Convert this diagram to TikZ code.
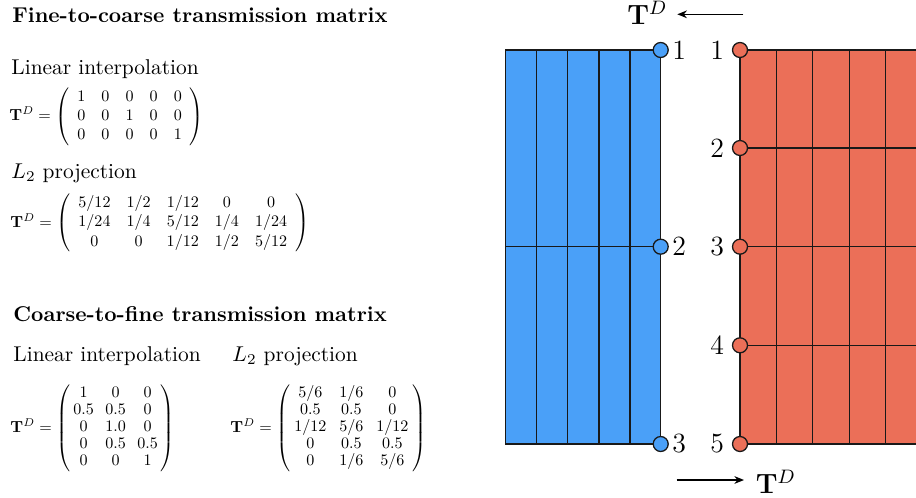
\documentclass[tikz,border=0pt]{standalone}
\usepackage{fix-cm}
\usepackage{amsmath}
\usepackage{graphicx}
\usetikzlibrary{arrows.meta}
\definecolor{bluefill}{RGB}{74,160,248}
\definecolor{redfill}{RGB}{235,111,88}
\definecolor{gridline}{RGB}{25,25,25}
\newcommand{\mymat}[4]{\scalebox{0.75}{\setlength{\arraycolsep}{#2}\renewcommand{\arraystretch}{#1}$\mathbf{T}^D=\left(\begin{array}{#3}#4\end{array}\right)$}}
\begin{document}
\begin{tikzpicture}[x=0.467pt,y=-0.467pt,
  head/.style={anchor=base west,inner sep=0pt,font=\bfseries},
  sub/.style={anchor=base west,inner sep=0pt},
  mat/.style={anchor=west,inner sep=0pt},
  gridl/.style={draw=gridline,line width=0.7pt},
  bdot/.style={circle,draw=gridline,fill=bluefill,line width=0.6pt,minimum size=7pt,inner sep=0pt},
  rdot/.style={circle,draw=gridline,fill=redfill,line width=0.6pt,minimum size=7pt,inner sep=0pt},
  num/.style={inner sep=0pt,font=\fontsize{13}{15}\selectfont},
  tarrow/.style={-{Stealth[length=4.5pt,width=3.6pt]},line width=0.6pt}
]
\useasboundingbox (0,0) rectangle (916,497);

% ---------- left text ----------
\node[head] (h1) at (12,22) {Fine-to-coarse transmission matrix};
\node[sub] (s1) at (11,74) {Linear interpolation};
\node[mat] (m1) at (9,116.5) {\mymat{1}{5pt}{ccccc}{1&0&0&0&0\\0&0&1&0&0\\0&0&0&0&1}};
\node[sub] (s2) at (11,178) {$L_2$ projection};
\node[mat] (m2) at (10,223) {\mymat{1}{5pt}{ccccc}{5/12&1/2&1/12&0&0\\1/24&1/4&5/12&1/4&1/24\\0&0&1/12&1/2&5/12}};

\node[head] (h2) at (13,321.7) {Coarse-to-fine transmission matrix};
\node[sub] (s3) at (13,361.7) {Linear interpolation};
\node[sub] (s4) at (232,361.7) {$L_2$ projection};
\node[mat] (m3) at (10,428) {\mymat{0.89}{0pt}{@{\hspace{1.8pt}}c@{\hspace{7.2pt}}c@{\hspace{7.2pt}}c@{\hspace{1.8pt}}}{1&0&0\\0.5&0.5&0\\0&1.0&0\\0&0.5&0.5\\0&0&1}};
\node[mat] (m4) at (230,428) {\mymat{0.89}{0pt}{@{\hspace{2.5pt}}c@{\hspace{8pt}}c@{\hspace{8pt}}c@{\hspace{2.5pt}}}{5/6&1/6&0\\0.5&0.5&0\\1/12&5/6&1/12\\0&0.5&0.5\\0&1/6&5/6}};

% ---------- blue (coarse) block ----------
\fill[bluefill] (505.7,50) rectangle (660.7,444);
\foreach \xx in {536.7,567.7,599,630} \draw[gridl] (\xx,50) -- (\xx,444);
\draw[gridl] (505.7,246.7) -- (660.7,246.7);
\draw[gridl] (505.7,50) rectangle (660.7,444);

% ---------- red (fine) block ----------
\fill[redfill] (740,50) rectangle (916,444);
\foreach \xx in {776.7,812.7,849.3,885.7} \draw[gridl] (\xx,50) -- (\xx,444);
\foreach \yy in {50,148,246.7,345.3,444} \draw[gridl] (740,\yy) -- (916,\yy);
\draw[gridl] (740,50) -- (740,444);

% ---------- interface nodes ----------
\node[bdot] (b1) at (660.7,50) {};
\node[bdot] (b2) at (660.7,246.7) {};
\node[bdot] (b3) at (660.7,444) {};
\node[num,anchor=west] (lb1) at (672,50) {1};
\node[num,anchor=west] (lb2) at (672,246.7) {2};
\node[num,anchor=west] (lb3) at (672,444) {3};

\node[rdot] (r1) at (740,50) {};
\node[rdot] (r2) at (740,148) {};
\node[rdot] (r3) at (740,246.7) {};
\node[rdot] (r4) at (740,345.3) {};
\node[rdot] (r5) at (740,444) {};
\node[num,anchor=east] (lr1) at (724.5,50) {1};
\node[num,anchor=east] (lr2) at (724.5,148) {2};
\node[num,anchor=east] (lr3) at (724.5,246.7) {3};
\node[num,anchor=east] (lr4) at (724.5,345.3) {4};
\node[num,anchor=east] (lr5) at (724.5,444) {5};

% ---------- transmission arrows ----------
\node[num,anchor=base west] (tdtop) at (627,25) {$\mathbf{T}^D$};
\coordinate (atopS) at (743.3,14.3);
\coordinate (atopE) at (677.3,14.3);
\draw[tarrow] (atopS) -- (atopE);

\node[num,anchor=base west] (tdbot) at (755.5,493.3) {$\mathbf{T}^D$};
\coordinate (abotS) at (676.7,480);
\coordinate (abotE) at (744,480);
\draw[tarrow] (abotS) -- (abotE);
\end{tikzpicture}
\end{document}
